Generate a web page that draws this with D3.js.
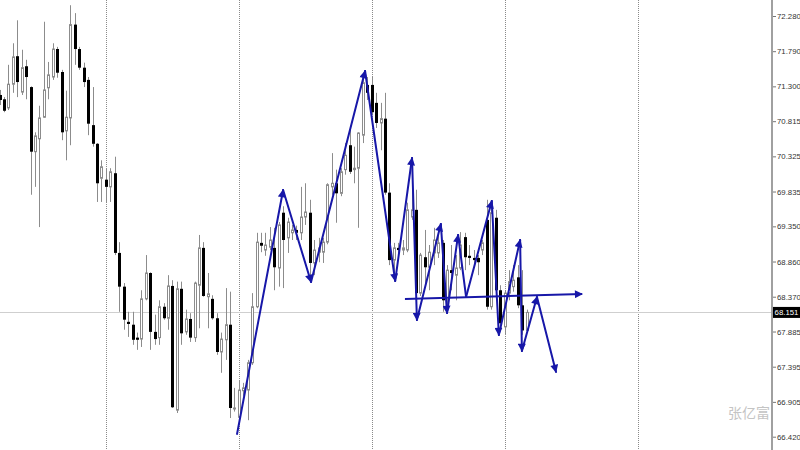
<!DOCTYPE html>
<html><head><meta charset="utf-8">
<script src="https://cdn.jsdelivr.net/npm/d3@7"></script>
<style>html,body{margin:0;padding:0;background:#fff;overflow:hidden}svg{display:block}</style>
</head><body>
<svg id="c" width="800" height="450"></svg>
<script>
// ---- data (bar index, prices) ----
const openP = [71.18,71.12,71.00,71.33,71.72,71.22,71.58,71.29,70.39,70.57,70.87,71.28,71.43,71.82,71.50,70.68,70.86,72.16,71.82,71.56,
71.39,70.76,70.50,70.02,70.00,69.90,70.09,68.98,68.51,68.02,67.98,67.80,67.78,68.34,68.70,67.88,67.80,68.23,68.07,68.52,
66.79,68.48,67.88,68.06,67.80,68.53,69.05,68.37,68.34,68.07,67.60,67.77,67.98,66.81,66.69,67.06,67.07,67.45,68.23,69.12,
69.02,69.06,69.05,68.77,69.54,69.19,69.26,69.30,69.26,69.48,69.54,68.84,68.99,68.99,69.13,69.90,69.95,69.81,70.14,70.48,
70.14,70.16,70.62,71.32,71.32,71.07,70.79,70.85,69.82,68.88,69.05,69.02,69.02,69.48,69.58,68.42,68.92,68.78,68.98,68.98,
69.12,68.32,68.74,68.67,68.77,69.20,68.94,68.91,68.91,69.02,69.44,68.23,69.47,68.46,67.95,68.42,68.51,68.64,68.25,67.90];
const highP = [71.25,71.15,71.60,71.90,72.22,71.81,71.67,71.30,70.66,71.03,72.20,71.64,71.90,71.85,71.53,71.24,72.43,72.32,71.85,71.63,
71.43,71.29,70.51,70.27,70.16,70.16,70.32,69.13,68.56,68.16,68.16,67.87,68.46,68.95,68.71,68.12,68.32,68.28,68.67,68.60,
68.58,68.58,68.19,68.14,68.58,69.23,69.13,68.70,68.39,68.14,67.87,68.49,68.44,67.10,67.21,67.17,67.49,68.42,69.26,69.26,
69.26,69.34,69.33,69.41,69.63,69.47,69.37,69.36,69.90,69.95,69.72,69.16,69.19,69.19,69.95,70.37,70.14,70.16,70.51,70.73,
70.46,70.66,71.43,71.43,71.43,71.21,71.07,71.21,69.95,69.12,69.12,69.16,69.68,69.86,69.86,68.98,69.30,69.09,69.33,69.30,
69.16,68.81,69.09,68.95,69.27,69.26,69.09,69.02,68.95,69.16,69.72,69.65,69.58,68.53,68.46,68.74,68.81,68.81,68.74,68.19];
const lowP = [71.04,70.94,70.97,71.21,71.15,71.18,71.12,69.79,69.90,69.34,70.86,71.12,71.39,71.42,70.55,70.27,70.48,71.60,71.53,71.29,
70.62,70.46,69.69,69.69,69.69,69.69,68.95,68.16,67.91,67.81,67.70,67.63,67.67,68.32,67.63,67.70,67.70,68.05,67.91,66.82,
66.75,67.70,67.84,67.74,67.74,67.93,68.37,67.93,68.05,67.56,67.31,67.49,66.68,66.77,66.63,66.99,66.65,67.42,68.21,68.99,
68.94,69.02,68.46,68.51,68.49,68.98,69.16,69.16,69.16,69.37,68.66,68.67,68.85,68.84,69.10,69.79,69.40,69.77,70.07,70.08,
69.95,69.33,70.51,71.11,70.90,70.72,70.41,69.79,68.81,68.60,68.91,68.95,68.99,69.44,68.39,68.38,68.56,68.46,68.81,68.91,
68.16,68.19,68.46,68.32,68.74,68.74,68.81,68.77,68.67,68.95,68.19,68.19,68.32,67.91,67.84,68.32,68.44,68.21,67.84,67.88];
const closeP = [71.11,70.96,71.33,71.71,71.36,71.56,71.43,70.39,70.61,70.86,71.25,71.46,71.82,71.49,70.66,70.87,72.16,71.82,71.56,71.36,
70.78,70.50,69.95,70.18,69.90,70.11,68.98,68.51,68.05,67.99,67.77,67.77,68.34,68.70,67.88,67.78,68.23,68.07,68.52,66.83,
68.48,67.86,68.06,67.80,68.56,69.05,68.38,68.41,68.07,67.60,67.78,67.98,66.82,66.82,67.07,67.10,67.45,68.23,69.13,69.08,
69.09,69.16,68.78,69.37,69.16,69.41,69.30,69.26,69.48,69.55,68.84,69.02,69.05,69.13,69.93,69.95,69.81,70.11,70.34,70.11,
70.16,70.65,71.35,71.21,70.94,70.79,70.85,69.82,68.88,69.05,69.02,69.05,69.58,69.58,68.42,68.95,68.78,68.99,69.16,69.12,
68.32,68.74,68.70,68.77,69.09,68.92,68.91,68.88,68.85,69.12,68.23,69.54,68.46,68.00,68.42,68.58,68.60,68.25,67.90,68.151];
const lastPrice = 68.151;
const tickLabels = ["72.280","71.790","71.300","70.815","70.325","69.835","69.350","68.860","68.370","67.885","67.395","66.905","66.420"];
const separatorBars = [24,54,84,114,144];
// hand-drawn arrow path: [bar index, price]
const arrowPts = [[53.6,66.458],[64.0,69.856],[70.3,68.575],[82.5,71.514],[89.3,68.589],[93.1,70.302],[94.2,68.046],
  [99.6,69.383],[101.0,68.143],[103.5,69.230],[105.3,68.366],[111.1,69.703],[112.7,67.837],[117.5,69.160],[117.9,67.614],
  [121.3,68.366],[125.6,67.321]];
const arrowHeadOn = [1,1,1,1,1,1,1,1,1,0,1,1,1,1,1,1];
const hLinePts = [[91.5,68.338],[131.5,68.408]];
const watermark = "张亿富";

// ---- scales ----
const svg = d3.select("#c");
const x = d3.scaleLinear().domain([0,174]).range([-0.4,770.42]);
const y = d3.scaleLinear().domain([66.42,72.28]).range([436.7,16]);

const defs = svg.append("defs");
defs.append("marker").attr("id","ah").attr("viewBox","0 0 10 10").attr("refX",9).attr("refY",5)
  .attr("markerUnits","userSpaceOnUse").attr("markerWidth",9).attr("markerHeight",8).attr("orient","auto")
  .append("path").attr("d","M0,0L10,5L0,10z").attr("fill","#1717a8");

// separators
svg.append("g").selectAll("line").data(separatorBars).join("line")
  .attr("x1",d=>Math.round(x(d))+0.5).attr("x2",d=>Math.round(x(d))+0.5)
  .attr("y1",0).attr("y2",450).attr("stroke","#8a8a8a").attr("stroke-width",1).attr("stroke-dasharray","1,1");

// last price line
svg.append("line").attr("x1",0).attr("x2",771).attr("y1",Math.round(y(lastPrice))+0.5).attr("y2",Math.round(y(lastPrice))+0.5)
  .attr("stroke","#cfcfcf").attr("stroke-width",1);

// watermark
svg.append("text").attr("x",770).attr("y",418).attr("text-anchor","end")
  .attr("font-family","Noto Sans CJK SC").attr("font-size",14).attr("fill","#c4c4c4").text(watermark);

// candles
const idx = d3.range(openP.length);
const cg = svg.append("g");
const cx = i => Math.round(x(i));
cg.selectAll("line.w").data(idx).join("line").attr("class","w")
  .attr("x1",i=>cx(i)+0.5).attr("x2",i=>cx(i)+0.5)
  .attr("y1",i=>y(highP[i])).attr("y2",i=>y(lowP[i]))
  .attr("stroke","#8c8c8c").attr("stroke-width",1);
cg.selectAll("rect.b").data(idx).join("rect").attr("class","b")
  .each(function(i){
    const o=openP[i], c=closeP[i];
    const top=y(Math.max(o,c)), bot=y(Math.min(o,c));
    const s=d3.select(this);
    if(c<o){
      s.attr("x",cx(i)-1).attr("width",3).attr("y",top).attr("height",Math.max(1,bot-top)).attr("fill","#000");
    } else {
      s.attr("x",cx(i)-0.5).attr("width",2).attr("y",top).attr("height",Math.max(1,bot-top))
       .attr("fill","#fff").attr("stroke","#8c8c8c").attr("stroke-width",1);
    }
  });

// arrows
const ag = svg.append("g");
for(let k=0;k<arrowPts.length-1;k++){
  const a=arrowPts[k], b=arrowPts[k+1];
  const ln = ag.append("line").attr("x1",x(a[0])).attr("y1",y(a[1])).attr("x2",x(b[0])).attr("y2",y(b[1]))
    .attr("stroke","#1717a8").attr("stroke-width",2).attr("stroke-linecap","round");
  if(arrowHeadOn[k]) ln.attr("marker-end","url(#ah)");
}
ag.append("line").attr("x1",x(hLinePts[0][0])).attr("y1",y(hLinePts[0][1]))
  .attr("x2",x(hLinePts[1][0])).attr("y2",y(hLinePts[1][1]))
  .attr("stroke","#1717a8").attr("stroke-width",2).attr("marker-end","url(#ah)");

// axis
svg.append("line").attr("x1",772).attr("x2",772).attr("y1",0).attr("y2",450).attr("stroke","#a0a0a0").attr("stroke-width",2);
const axis = d3.axisRight(y).tickValues(tickLabels.map(Number)).tickFormat((d,i)=>tickLabels[i]).tickSize(3).tickPadding(1);
const ax = svg.append("g").attr("transform","translate(773,0)").call(axis);
ax.select(".domain").remove();
ax.selectAll(".tick line").attr("stroke","#777");
ax.selectAll(".tick text").attr("font-family","Liberation Sans, Arial, sans-serif").attr("font-size",7.8).attr("fill","#333");

// last price tag
const ly = y(lastPrice);
svg.append("rect").attr("x",773).attr("y",ly-5.5).attr("width",27).attr("height",11).attr("fill","#000");
svg.append("text").attr("x",786.5).attr("y",ly).attr("dy","0.35em").attr("text-anchor","middle")
  .attr("font-family","Liberation Sans, Arial, sans-serif").attr("font-size",7.8).attr("fill","#fff").text(lastPrice.toFixed(3));
</script>
</body></html>
